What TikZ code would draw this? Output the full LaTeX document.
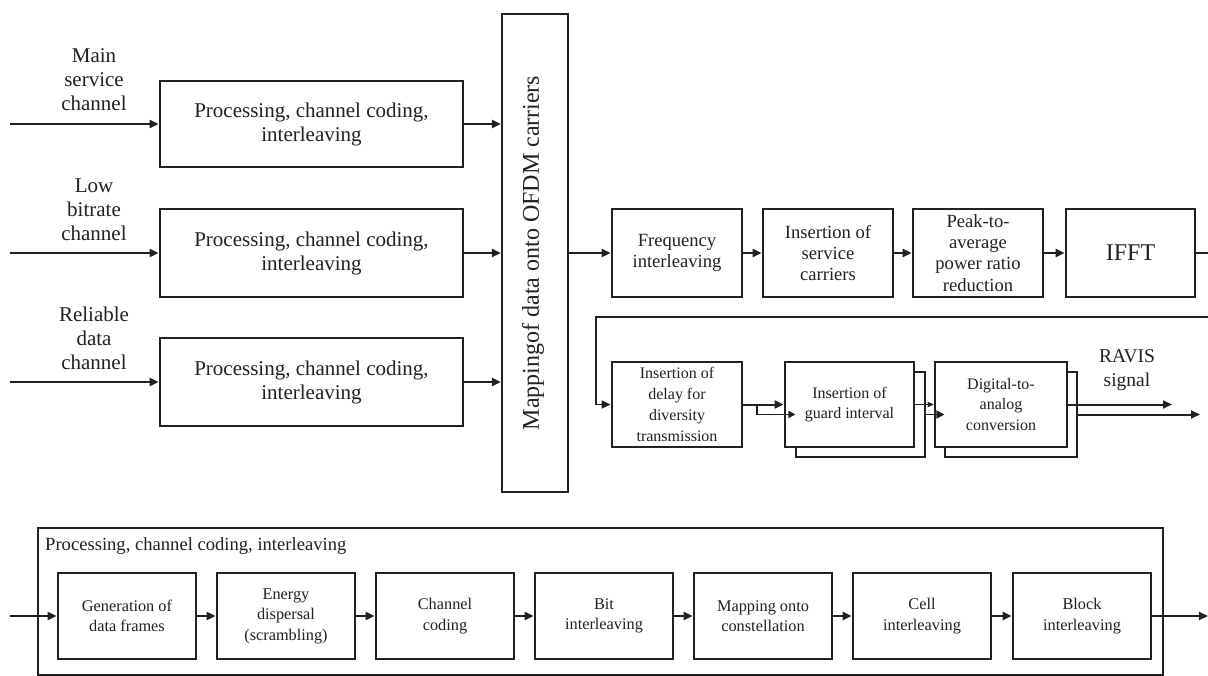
\documentclass[tikz,border=0pt]{standalone}
\usepackage{fontspec}
\setmainfont{Liberation Serif}
\usetikzlibrary{arrows.meta}
\definecolor{ink}{gray}{0.13}
\begin{document}
\begin{tikzpicture}[x=1pt,y=-1pt,
  every node/.style={text=ink},
  blk/.style={draw=ink, line width=2.8pt, fill=white, align=center, inner sep=0pt},
  thinblk/.style={draw=ink, line width=2pt, align=center, inner sep=0pt},
  shadowbox/.style={draw=ink, line width=1.1pt, fill=white, inner sep=0pt},
  lbl/.style={align=center, inner sep=0pt},
  fbig/.style={font=\fontsize{21}{24}\selectfont},
  fmid/.style={font=\fontsize{18.6}{21.2}\selectfont},
  fsml/.style={font=\fontsize{16}{20.8}\selectfont},
  fbot/.style={font=\fontsize{16.3}{20.5}\selectfont},
  conn/.style={draw=ink, line width=2pt, -{Triangle[length=9pt,width=8pt]}},
  thinconn/.style={draw=ink, line width=1.1pt, -{Triangle[length=6pt,width=5.5pt]}},
  plain/.style={draw=ink, line width=2pt},
]
\useasboundingbox (0,0) rectangle (1208,676);
\fill[white] (0,0) rectangle (1208,676);

% ---- left inputs ----
\node[blk, fbig, minimum width=303, minimum height=86] (p1) at (311.5,124) {Processing, channel coding,\\interleaving};
\node[blk, fbig, minimum width=303, minimum height=88] (p2) at (311.5,253) {Processing, channel coding,\\interleaving};
\node[blk, fbig, minimum width=303, minimum height=88] (p3) at (311.5,382) {Processing, channel coding,\\interleaving};

\node[lbl, fbig] (l1) at (94,80) {Main\\service\\channel};
\node[lbl, fbig] (l2) at (94,210) {Low\\bitrate\\channel};
\node[lbl, fbig] (l3) at (94,338) {Reliable\\data\\channel};

\coordinate (i1) at (10,124);
\coordinate (i2) at (10,253);
\coordinate (i3) at (10,382);
\draw[conn] (i1) -- (p1.west);
\draw[conn] (i2) -- (p2.west);
\draw[conn] (i3) -- (p3.west);

% ---- mapping ----
\node[thinblk, line width=2.2pt, minimum width=66, minimum height=478] (map) at (535,253) {};
\node[rotate=90, font=\fontsize{24}{28}\selectfont, inner sep=0pt] (maptxt) at (533,253) {Mappingof data onto OFDM carriers};

\draw[conn] (p1.east) -- (p1.east -| map.west);
\draw[conn] (p2.east) -- (p2.east -| map.west);
\draw[conn] (p3.east) -- (p3.east -| map.west);

% ---- upper right row ----
\node[blk, fmid, minimum width=130, minimum height=88] (freq) at (677,253) {Frequency\\interleaving};
\node[blk, fmid, minimum width=130, minimum height=88] (serv) at (828,253) {Insertion of\\service\\carriers};
\node[blk, fmid, minimum width=130, minimum height=88] (papr) at (978,253) {Peak-to-\\average\\power ratio\\reduction};
\node[blk, font=\fontsize{24}{28}\selectfont, minimum width=129, minimum height=88] (ifft) at (1130.5,253) {IFFT};

\draw[conn] (map.east) -- (freq.west);
\draw[conn] (freq.east) -- (serv.west);
\draw[conn] (serv.east) -- (papr.west);
\draw[conn] (papr.east) -- (ifft.west);

\coordinate (o1) at (1208,253);
\coordinate (w1) at (1208,317);
\coordinate (w2) at (596,317);
\draw[plain] (ifft.east) -- (o1);

% ---- middle row ----
\node[blk, fsml, minimum width=130, minimum height=85] (delay) at (677,404.5) {Insertion of\\delay for\\diversity\\transmission};

\node[shadowbox, minimum width=129, minimum height=85] (gsh) at (860.5,414.5) {};
\node[blk, fsml, minimum width=129, minimum height=85] (guard) at (849.5,404.5) {Insertion of\\guard interval};

\node[shadowbox, minimum width=132, minimum height=85] (dsh) at (1011,414.5) {};
\node[blk, fsml, minimum width=132, minimum height=85] (dac) at (1001,404.5) {Digital-to-\\analog\\conversion};

\draw[conn, line width=1.6pt] (w1) -- (w2) |- (delay.west);

\draw[conn] (delay.east) -- (guard.west);
\coordinate (br1) at (757,404.5);
\draw[thinconn, line width=1.6pt, -{Triangle[length=7pt,width=7pt]}] (br1) |- (gsh.west);

\draw[thinconn] (guard.east) -- (dac.west);
\draw[thinconn, line width=1.4pt, -{Triangle[length=8pt,width=8pt]}] (gsh.east) -- (dsh.west);

\coordinate (r1) at (1172,404.5);
\coordinate (r2) at (1200,414.5);
\draw[conn] (dac.east) -- (r1);
\draw[conn] (dsh.east) -- (r2);
\node[lbl, font=\fontsize{19.5}{24}\selectfont] (ravis) at (1127,370) {RAVIS\\signal};

% ---- bottom detail ----
\node[thinblk, minimum width=1125, minimum height=147] (outer) at (600.5,601.5) {};
\node[anchor=west, inner sep=0pt, fmid] (outerlbl) at (45,546) {Processing, channel coding, interleaving};

\node[blk, fbot, minimum width=138, minimum height=86] (b1) at (127,616) {Generation of\\data frames};
\node[blk, fbot, minimum width=138, minimum height=86] (b2) at (286,616) {Energy\\dispersal\\(scrambling)};
\node[blk, fbot, minimum width=138, minimum height=86] (b3) at (445,616) {Channel\\coding};
\node[blk, fbot, minimum width=138, minimum height=86] (b4) at (604,616) {Bit\\interleaving};
\node[blk, fbot, minimum width=138, minimum height=86] (b5) at (763,616) {Mapping onto\\constellation};
\node[blk, fbot, minimum width=138, minimum height=86] (b6) at (922,616) {Cell\\interleaving};
\node[blk, fbot, minimum width=138, minimum height=86] (b7) at (1082,616) {Block\\interleaving};

\coordinate (bin) at (10,616);
\coordinate (bout) at (1208,616);
\draw[conn] (bin) -- (b1.west);
\draw[conn] (b1.east) -- (b2.west);
\draw[conn] (b2.east) -- (b3.west);
\draw[conn] (b3.east) -- (b4.west);
\draw[conn] (b4.east) -- (b5.west);
\draw[conn] (b5.east) -- (b6.west);
\draw[conn] (b6.east) -- (b7.west);
\draw[conn] (b7.east) -- (bout);
\end{tikzpicture}
\end{document}
